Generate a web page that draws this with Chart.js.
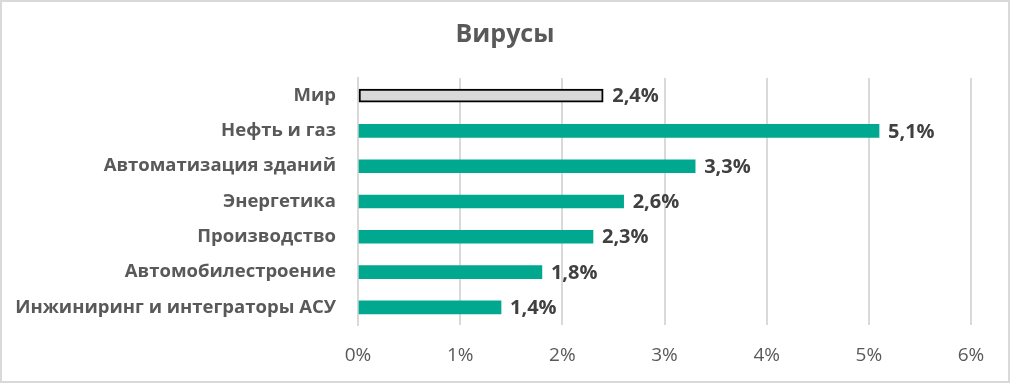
<!DOCTYPE html>
<html>
<head>
<meta charset="utf-8">
<script src="https://cdn.jsdelivr.net/npm/chart.js@4"></script>
<style>
    html, body { margin: 0; padding: 0; background: #fff; }
    .wrap { width: 1010px; height: 383px; box-sizing: border-box; border: 2px solid #d9d9d9; }
    canvas { display: block; }
</style>
</head>
<body>
<div class="wrap"><canvas id="virusChart" width="1006" height="379"></canvas></div>
<script>
const categories = ['Мир', 'Нефть и газ', 'Автоматизация зданий', 'Энергетика', 'Производство', 'Автомобилестроение', 'Инжиниринг и интеграторы АСУ'];
const values = [2.4, 5.1, 3.3, 2.6, 2.3, 1.8, 1.4];
const xTicks = [0, 1, 2, 3, 4, 5, 6];
const titleText = 'Вирусы';

const font = '"Open Sans", "Noto Sans", sans-serif';
const fmt = v => v.toFixed(1).replace('.', ',') + '%';

// value labels at the end of each bar + title centred on the whole canvas
const barLabels = {
    id: 'barLabels',
    afterDatasetsDraw(chart) {
        const ctx = chart.ctx;
        const meta = chart.getDatasetMeta(0);
        ctx.save();
        ctx.font = 'bold 20px ' + font;
        ctx.fillStyle = '#404040';
        ctx.textAlign = 'left';
        ctx.textBaseline = 'middle';
        meta.data.forEach((bar, i) => {
            ctx.fillText(fmt(values[i]), bar.x + 9, bar.y + 1);
        });

        ctx.font = 'bold 25px ' + font;
        ctx.fillStyle = '#595959';
        ctx.textAlign = 'center';
        ctx.fillText(titleText, chart.width / 2, 33);
        ctx.restore();
    }
};

new Chart(document.getElementById('virusChart'), {
    type: 'bar',
    data: {
        labels: categories,
        datasets: [{
            data: values,
            backgroundColor: values.map((v, i) => i === 0 ? '#d9d9d9' : '#00a88f'),
            borderColor: values.map((v, i) => i === 0 ? '#000000' : '#00a88f'),
            borderWidth: values.map((v, i) => i === 0 ? 2 : 0),
            borderSkipped: false,
            barThickness: 13
        }]
    },
    options: {
        indexAxis: 'y',
        responsive: false,
        animation: false,
        layout: { padding: { left: 0, right: 37, top: 76, bottom: 0 } },
        plugins: {
            legend: { display: false },
            tooltip: { enabled: false },
            title: { display: false }
        },
        scales: {
            x: {
                min: 0,
                max: 6,
                afterBuildTicks: scale => { scale.ticks = xTicks.map(v => ({ value: v })); },
                afterFit: scale => { scale.height = 56; },
                grid: { color: '#d9d9d9', lineWidth: 2, drawTicks: false },
                border: { display: false },
                ticks: {
                    padding: 19,
                    color: '#595959',
                    font: { family: font, size: 19 },
                    callback: v => v + '%'
                }
            },
            y: {
                afterFit: scale => { scale.width = 356; },
                grid: { display: false, drawTicks: false },
                border: { display: true, color: '#d9d9d9', width: 2 },
                ticks: {
                    padding: 22,
                    color: '#595959',
                    font: { family: font, size: 18.5, weight: 'bold' }
                }
            }
        }
    },
    plugins: [barLabels]
});
</script>
</body>
</html>
